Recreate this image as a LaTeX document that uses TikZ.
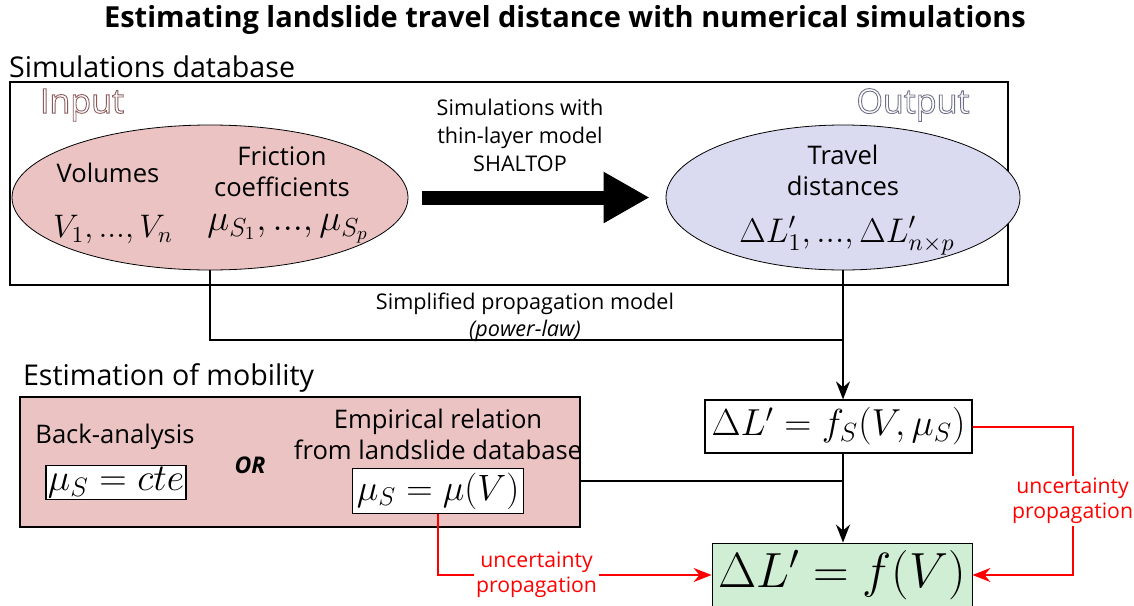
\documentclass[tikz,border=0pt]{standalone}
\usepackage{fix-cm}
\usepackage{fontspec}
\setmainfont{Open Sans}
\usetikzlibrary{arrows.meta,shapes.geometric}
\definecolor{inpink}{HTML}{EBC3C3}
\definecolor{outblue}{HTML}{DADAF0}
\definecolor{resgreen}{HTML}{D0EED4}
\definecolor{inedge}{HTML}{8C5A5A}
\definecolor{outedge}{HTML}{707088}
\newcommand\outlined[2]{\textcolor{#1}{\special{pdf:literal direct 1 Tr 0.45 w}#2\special{pdf:literal direct 0 Tr}}}
\tikzset{head/.style={font=\fontsize{14.3}{16}\selectfont,anchor=west},
  lbl/.style={font=\fontsize{12.8}{15.5}\selectfont,align=center},
  small/.style={font=\fontsize{10.6}{12.5}\selectfont,align=center},
  eqbox/.style={draw,fill=white,inner sep=1.5pt,line width=.6pt},
  flow/.style={-{Stealth[length=9pt,width=7pt]},line width=1pt},
  unc/.style={red,-{Stealth[length=9pt,width=7pt]},line width=1pt}}

\begin{document}
\begin{tikzpicture}[x=0.5pt,y=-0.5pt]
  \path[use as bounding box] (0,0) rectangle (1134,605);
  \node[font=\bfseries\fontsize{14.5}{17}\selectfont] (title) at (565,20) {Estimating landslide travel distance with numerical simulations};
  % simulations database
  \node[head] (simhead) at (2,67) {Simulations database};
  \node[draw,line width=.6pt,minimum width=499pt,minimum height=101.5pt] (simdb) at (509,183.5) {};
  \node[font=\fontsize{17}{20}\selectfont] (inlbl) at (82,105) {\outlined{inedge}{Input}};
  \node[font=\fontsize{17}{20}\selectfont] (outlbl) at (913,105) {\outlined{outedge}{Output}};
  \node[ellipse,draw,fill=inpink,minimum width=198pt,minimum height=72.5pt,inner sep=0pt] (inL) at (210,197.5) {};
  \node[ellipse,draw,fill=outblue,minimum width=177pt,minimum height=72.5pt,inner sep=0pt] (outR) at (843,197.5) {};
  \node[lbl] (vol) at (108,173) {Volumes};
  \node[font=\fontsize{16.3}{20}\selectfont] (volmath) at (113,230) {$V_1,...,V_n$};
  \node[lbl] (fric) at (282,172) {Friction\\coefficients};
  \node[font=\fontsize{18.6}{20}\selectfont] (fricmath) at (288,229) {$\mu_{S_1},...,\mu_{S_p}$};
  \node[lbl] (trav) at (843,170) {Travel\\distances};
  \node[font=\fontsize{17.1}{20}\selectfont] (travmath) at (847,236) {$\Delta L'_1,...,\Delta L'_{n\times p}$};
  \node[lbl,font=\fontsize{10.8}{14}\selectfont] (shaltop) at (520,135) {Simulations with\\thin-layer model\\SHALTOP};
  \draw[line width=7pt,-{Triangle[length=23pt,width=24pt]}] ([xshift=7pt]inL.east) -- ([xshift=-8pt]outR.west);
  % simplified model
  \coordinate (join) at (843,340);
  \draw[line width=1pt] (inL.south) |- (join);
  \node[lbl,font=\fontsize{10.8}{13.5}\selectfont] (plaw) at (525,317) {Simplified propagation model\\\textit{(power-law)}};
  % estimation of mobility
  \node[head] (mobhead) at (16,378) {Estimation of mobility};
  \node[draw,fill=inpink,line width=.6pt,minimum width=280pt,minimum height=65pt] (mob) at (300,462) {};
  \node[lbl] (back) at (115,437) {Back-analysis};
  \node[eqbox,font=\fontsize{19}{22}\selectfont,inner sep=1pt] (cte) at (116,482.5) {$\mu_S=cte$};
  \node[lbl,font=\bfseries\itshape\fontsize{11.5}{13}\selectfont] (or) at (250,465) {OR};
  \node[lbl] (emp) at (438,434) {Empirical relation\\from landslide database};
  \node[eqbox,font=\fontsize{18.3}{22}\selectfont,inner sep=2pt] (muv) at (438,491) {$\mu_S=\mu(V)$};
  % results
  \node[eqbox,font=\fontsize{18.8}{22}\selectfont,minimum width=133.5pt,minimum height=26.5pt,inner sep=1pt] (fs) at (838.5,426.5) {$\Delta L'=f_S(V,\mu_S)$};
  \node[draw,fill=resgreen,font=\fontsize{24.7}{30}\selectfont,minimum width=130pt,minimum height=32pt,inner sep=1pt] (final) at (842,575) {$\Delta L'=f(V)$};
  \draw[flow] (outR.south) -- (outR.south |- fs.north);
  \coordinate (mobout) at (580,481);
  \draw[line width=1pt] (mobout) -- (mobout -| outR.south);
  \draw[flow] (outR.south |- fs.south) -- (outR.south |- final.north);
  \draw[unc] (muv.south) |- node[small,pos=.68,fill=white,text=red,inner sep=1pt] {uncertainty\\propagation} (final.west);
  \draw[unc] (fs.east) -- ++(100,0) |- node[small,pos=.25,fill=white,text=red,inner sep=1pt] {uncertainty\\propagation} (final.east);
\end{tikzpicture}
\end{document}
